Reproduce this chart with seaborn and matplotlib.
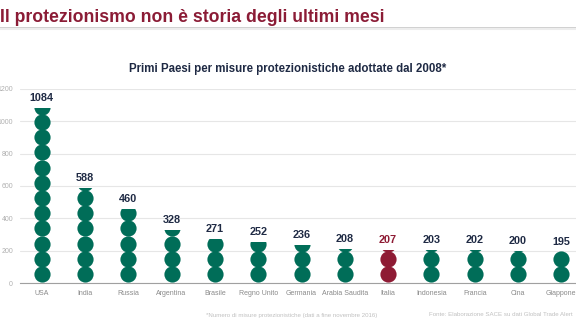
import numpy as np
import pandas as pd
import matplotlib
matplotlib.use("Agg")
import matplotlib.pyplot as plt
import seaborn as sns

# ---- data ----
countries = ["USA", "India", "Russia", "Argentina", "Brasile", "Regno Unito",
             "Germania", "Arabia Saudita", "Italia", "Indonesia", "Francia",
             "Cina", "Giappone"]
values = [1084, 588, 460, 328, 271, 252, 236, 208, 207, 203, 202, 200, 195]
highlight = "Italia"
yticks = [0, 200, 400, 600, 800, 1000, 1200]

title = "Il protezionismo non è storia degli ultimi mesi"
subtitle = "Primi Paesi per misure protezionistiche adottate dal 2008*"
note = "*Numero di misure protezionistiche (dati a fine novembre 2016)"
source = "Fonte: Elaborazione SACE su dati Global Trade Alert"

# ---- style ----
GREEN = "#006D58"
RED = "#8E1B34"
NAVY = "#1F2A44"
sns.set_style("white")
plt.rcParams["font.family"] = ["Liberation Sans", "DejaVu Sans"]

df = pd.DataFrame({"country": countries, "value": values})
colors = {c: (RED if c == highlight else GREEN) for c in countries}

fig = plt.figure(figsize=(5.76, 3.24), dpi=100)
ax = fig.add_axes([20 / 576, 1 - 283 / 324, 563 / 576, 194 / 324])

sns.barplot(data=df, x="country", y="value", hue="country", palette=colors,
            legend=False, ax=ax, width=0.8)

# circle layout (pictogram)
base, step, rad = 56, 94, 47
for patch, c, v in zip(ax.patches, countries, values):
    xc = patch.get_x() + patch.get_width() / 2
    col = colors[c]
    patch.set_facecolor("none")
    patch.set_edgecolor("none")
    ys = []
    k = 0
    while base + k * step - rad < v:
        ys.append(base + k * step)
        k += 1
    sc = ax.scatter([xc] * len(ys), ys, s=136, color=col, linewidths=0, zorder=3)
    sc.set_clip_path(patch)
    ax.annotate(str(v), (xc, v), xytext=(0, 5), textcoords="offset points",
                ha="center", va="baseline", fontsize=7.8, fontweight="bold",
                color=(RED if c == highlight else NAVY), zorder=4)

ax.set_xlim(-0.5, len(countries) - 0.5)
ax.set_ylim(0, 1200)
ax.set_yticks(yticks)
ax.set_yticklabels([str(t) for t in yticks])
ax.yaxis.grid(True, color="#E6E6E6", linewidth=0.8)
ax.set_axisbelow(True)
ax.tick_params(axis="y", length=0, pad=5, labelsize=5, labelcolor="#B0B0B0")
ax.tick_params(axis="x", length=0, pad=5, labelsize=5, labelcolor="#8A8A8A")
for lbl in ax.get_xticklabels():
    lbl.set_fontfamily(["Liberation Sans Narrow", "Liberation Sans"])
ax.set_xlabel("")
ax.set_ylabel("")
for s in ["top", "right", "left"]:
    ax.spines[s].set_visible(False)
ax.spines["bottom"].set_color("#A0A0A0")
ax.spines["bottom"].set_linewidth(0.8)

# header
fig.text(0.0, 1 - 17 / 324, title, ha="left", va="center", fontsize=12.7,
         fontweight="bold", color="#8B1C36")
fig.add_artist(plt.Line2D([0, 1], [1 - 27.5 / 324] * 2, color="#CFCFCF", lw=1.4,
                          transform=fig.transFigure))
fig.add_artist(plt.Line2D([0, 1], [1 - 29 / 324] * 2, color="#EDEDED", lw=1.5,
                          transform=fig.transFigure))
fig.text(0.5, 1 - 69 / 324, subtitle, ha="center", va="center", fontsize=8.3,
         fontweight="bold", color=NAVY)

# footer
fig.text(206 / 576, 1 - 315 / 324, note, ha="left", va="center", fontsize=4.4,
         color="#C0C0C0")
fig.text(429 / 576, 1 - 315 / 324, source, ha="left", va="center", fontsize=4.4,
         color="#C0C0C0")

fig.savefig("out.png", dpi=100)
